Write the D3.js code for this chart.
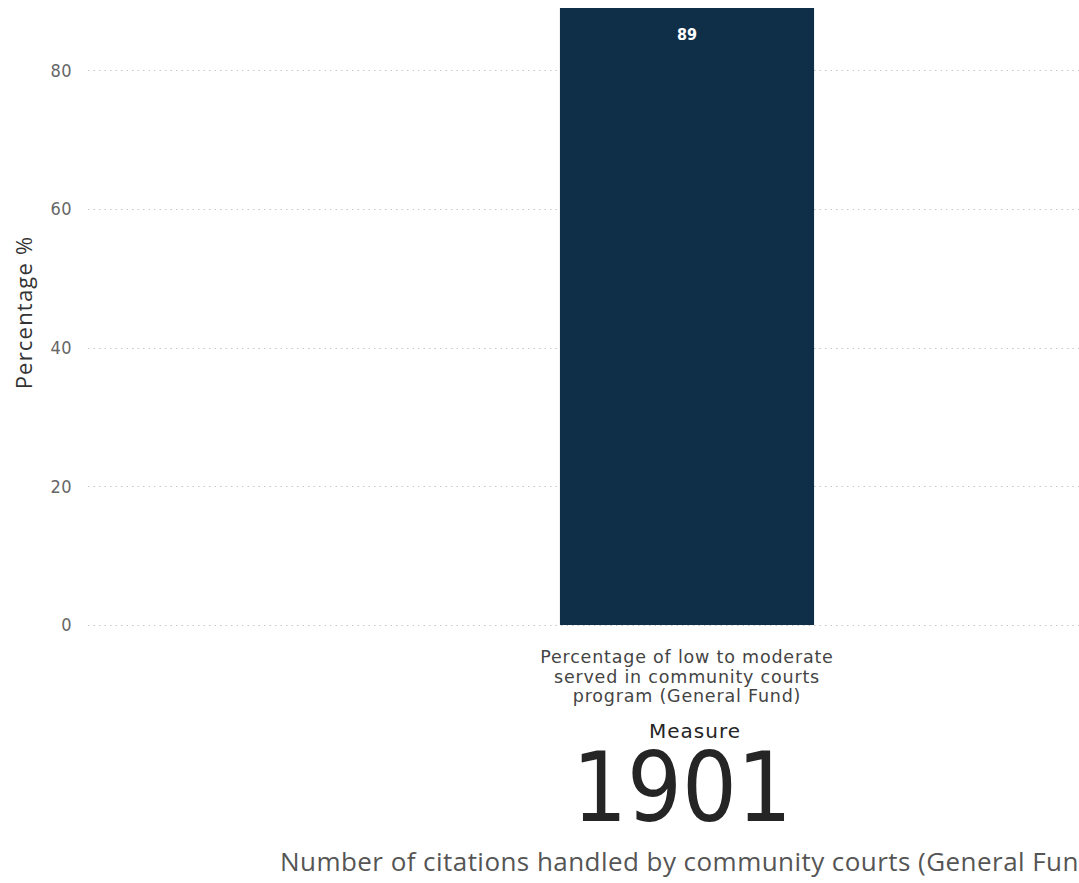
<!DOCTYPE html>
<html>
<head>
<meta charset="utf-8">
<script src="https://cdn.jsdelivr.net/npm/d3@7"></script>
<style>
  html, body { margin: 0; padding: 0; background: #fff; overflow: hidden; }
  svg { display: block; }
</style>
</head>
<body>
<svg id="chart" width="1079" height="883"></svg>
<script>
// Data
const categories = ["Percentage of low to moderate served in community courts program (General Fund)"];
const categoryLines = [["Percentage of low to moderate", "served in community courts", "program (General Fund)"]];
const values = [89];
const yTicks = [0, 20, 40, 60, 80];
const cardValue = 1901;
const cardLabel = "Number of citations handled by community courts (General Fund)";

const svg = d3.select("#chart");
const W = 1079, H = 883;

// Plot area (the visual's right side runs past the visible frame)
const plot = { left: 88, right: 1286, top: 8, bottom: 625 };

const x = d3.scaleBand()
  .domain(categories)
  .range([plot.left, plot.right])
  .padding(0.65);

const y = d3.scaleLinear()
  .domain([0, 89])
  .range([plot.bottom, plot.top]);

const condensed = "'DejaVu Sans Condensed', 'DejaVu Sans', sans-serif";
const din = "'DejaVu Sans', sans-serif";
const segoe = "'Open Sans', 'Noto Sans', sans-serif";

// Gridlines
const grid = svg.append("g").attr("class", "grid");
grid.selectAll("line")
  .data(yTicks)
  .join("line")
  .attr("x1", plot.left)
  .attr("x2", W)
  .attr("y1", d => Math.round(y(d)) + 0.5)
  .attr("y2", d => Math.round(y(d)) + 0.5)
  .attr("stroke", "#c8c8c8")
  .attr("stroke-width", 1)
  .attr("stroke-dasharray", "1.5,4");

// Y axis labels
const yAxis = svg.append("g")
  .attr("transform", `translate(${plot.left - 16},0)`)
  .call(d3.axisLeft(y).tickValues(yTicks).tickSize(0).tickPadding(0));
yAxis.select(".domain").remove();
yAxis.selectAll("text")
  .attr("fill", "#666")
  .attr("font-family", condensed)
  .attr("font-size", 18)
  .attr("letter-spacing", 0.5);

// Y axis title
svg.append("text")
  .attr("transform", `translate(32,${(plot.top + plot.bottom) / 2 - 4}) rotate(-90)`)
  .attr("text-anchor", "middle")
  .attr("fill", "#333")
  .attr("font-family", segoe)
  .attr("font-size", 22)
  .attr("letter-spacing", 1.2)
  .text("Percentage %");

// Bars
svg.append("g")
  .selectAll("rect")
  .data(values)
  .join("rect")
  .attr("x", (d, i) => x(categories[i]))
  .attr("width", x.bandwidth())
  .attr("y", d => y(d))
  .attr("height", d => y(0) - y(d))
  .attr("fill", "#0f2f48");

// Value labels
svg.append("g")
  .selectAll("text")
  .data(values)
  .join("text")
  .attr("x", (d, i) => x(categories[i]) + x.bandwidth() / 2)
  .attr("y", d => y(d) + 32)
  .attr("text-anchor", "middle")
  .attr("fill", "#fff")
  .attr("font-family", condensed)
  .attr("font-weight", "bold")
  .attr("font-size", 16)
  .text(d => d);

// Category labels (wrapped)
const catG = svg.append("g");
categoryLines.forEach((lines, i) => {
  const cx = x(categories[i]) + x.bandwidth() / 2;
  const t = catG.append("text")
    .attr("text-anchor", "middle")
    .attr("fill", "#444")
    .attr("font-family", din)
    .attr("font-size", 17.5)
    .attr("letter-spacing", 0.8);
  lines.forEach((ln, j) => {
    t.append("tspan").attr("x", cx).attr("y", 663 + j * 19.5).text(ln);
  });
});

// X axis title
const cx0 = x(categories[0]) + x.bandwidth() / 2;
svg.append("text")
  .attr("x", cx0 + 8)
  .attr("y", 738)
  .attr("text-anchor", "middle")
  .attr("fill", "#252525")
  .attr("font-family", din)
  .attr("font-size", 20)
  .attr("letter-spacing", 1)
  .text("Measure");

// Card value
svg.append("text")
  .attr("x", cx0 - 5)
  .attr("y", 821)
  .attr("text-anchor", "middle")
  .attr("fill", "#252525")
  .attr("font-family", condensed)
  .attr("font-size", 96)
  .text(cardValue);

// Card label
svg.append("text")
  .attr("x", 280)
  .attr("y", 871)
  .attr("fill", "#555")
  .attr("font-family", segoe)
  .attr("font-size", 26)
  .attr("letter-spacing", 0.45)
  .text(cardLabel);
</script>
</body>
</html>
